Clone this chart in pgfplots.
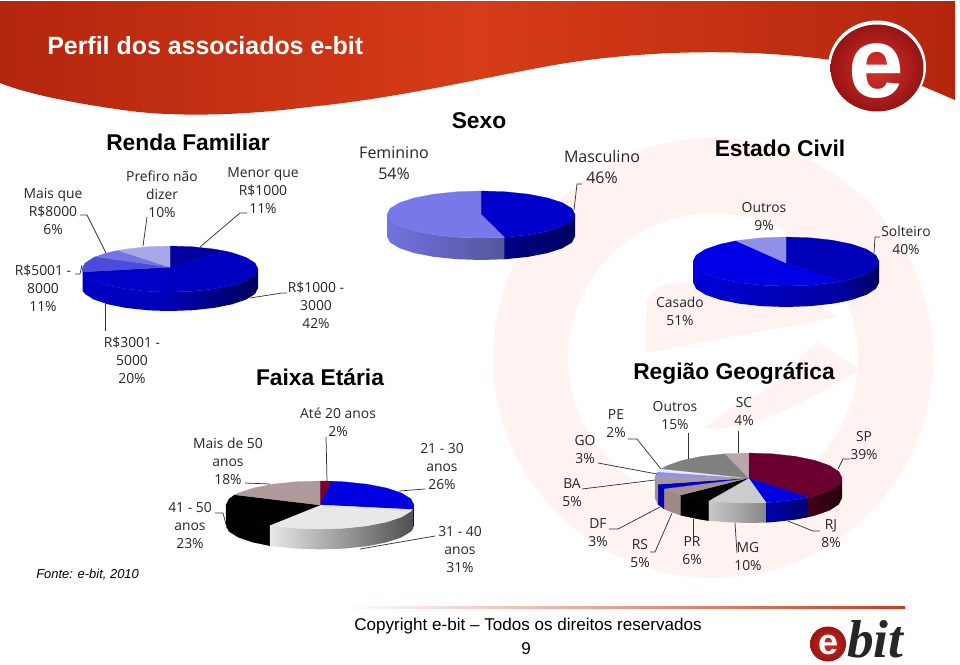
\documentclass[border=0pt]{standalone}
\usepackage{pgfplots}
\pgfplotsset{compat=1.18}
\usepackage{fontspec}
\setmainfont{Liberation Sans}
\newfontfamily\lab{Open Sans}
\newfontfamily\logoserif{Liberation Serif}
\definecolor{wm}{HTML}{FEF3F0}
\definecolor{labc}{HTML}{262626}
\newcommand\dc[1]{\definecolor{#1}{HTML}{#1}}
\dc{b3260e}\dc{d63c18}\dc{d8342c}\dc{961414}\dc{0000C0}\dc{00005C}\dc{0000C4}\dc{0000B8}\dc{00009E}\dc{0000C8}\dc{4C4CDC}\dc{7474E4}\dc{A8A8E8}\dc{000088}\dc{000060}\dc{7272E0}\dc{55559C}\dc{0000CC}\dc{7878E8}\dc{0000A0}\dc{0000D8}\dc{0000E4}\dc{9090E8}\dc{000090}\dc{E8E8E8}\dc{505050}\dc{7A0030}\dc{0000E0}\dc{AE9A9A}\dc{400018}\dc{280010}\dc{0000A8}\dc{000070}\dc{C8C8C8}\dc{888888}\dc{A08888}\dc{A09090}\dc{6A0030}\dc{CCCCCC}\dc{A89090}\dc{0000D0}\dc{A89A9A}\dc{E6ECF8}\dc{808080}\dc{B8A8A8}\dc{c83c20}\dc{d03028}\dc{981410}
\pgfplotsset{
  pie/.style={hide axis, scale only axis, clip=false, xmin=-1, xmax=1, ymin=-1, ymax=1, anchor=center, no markers},
  sl/.style={forget plot, fill=#1, draw=#1, line width=0.2pt},
  sd/.style n args={2}{forget plot, draw=none, left color=#1, right color=#2}
}
\newcommand\lbl[4][10.4]{\node[align=center,text=labc,inner sep=0pt,font=\lab\fontsize{#1}{13.5}\selectfont] at (#2,#3) {#4};}
\newcommand\lblb[3]{\node[align=center,text=labc,inner sep=0pt,font=\lab\fontsize{12}{15.75}\selectfont] at (#1,#2) {#3};}
\newcommand\ttl[3]{\node[inner sep=0pt,font=\bfseries\fontsize{17.1}{18}\selectfont] at (#1,#2) {#3};}
\begin{document}
\begin{tikzpicture}[x=0.75pt,y=-0.75pt]
\fill[white,use as bounding box] (0,0) rectangle (960,664);
% watermark
\fill[wm] (713,358) circle[radius=220];
\fill[white] (713,358) circle[radius=145];
\fill[wm] (645,353) -- (647,300) .. controls (655,285) and (670,283) .. (683,283) .. controls (750,280) and (810,295) .. (837,317) -- cycle;
\fill[wm] (860,370) -- (817,342) -- (790,367) .. controls (775,385) and (755,400) .. (733,407) -- (703,428) .. controls (750,432) and (790,410) .. cycle;
% header
\path[left color=b3260e, right color=b3260e, middle color=d63c18]
  (0,1) -- (955,1) -- (955,100) -- (880,68) -- (831,60)
  .. controls (760,50) and (660,48) .. (560,64)
  .. controls (480,78) and (400,98) .. (308,107)
  .. controls (240,116) and (170,117) .. (123,110)
  .. controls (80,104) and (30,95) .. (0,83) -- cycle;
\node[inner sep=0pt,text=white,font=\bfseries\fontsize{18.7}{20}\selectfont,anchor=west] at (47,46) {Perfil dos associados e-bit};
% big logo
\fill[white] (877,67) ellipse[x radius=49,y radius=46.5];
\shade[inner color=d8342c, outer color=961414] (877,68) ellipse[x radius=46.5,y radius=43.5];
\node[inner sep=0pt,text=white,font=\bfseries\fontsize{75}{75}\selectfont] at (876,71) {e};

% ---- Renda Familiar
\begin{axis}[pie, at={(170*0.75pt,-269*0.75pt)}, width=132pt, height=34.5pt]
\addplot[sd={0000C0}{00005C}] coordinates {(1,0)(.966,-.259)(.866,-.5)(.707,-.707)(.5,-.866)(.259,-.966)(0,-1)(-.187,-.982)(-.187,-1.808)(0,-1.826)(.259,-1.792)(.5,-1.692)(.707,-1.533)(.866,-1.326)(.966,-1.085)(1,-.826)} --cycle;
\addplot[sd={0000C4}{0000B8}] coordinates {(-.187,-.982)(-.259,-.966)(-.5,-.866)(-.707,-.707)(-.866,-.5)(-.966,-.259)(-.992,-.125)(-.992,-.951)(-.966,-1.085)(-.866,-1.326)(-.707,-1.533)(-.5,-1.692)(-.259,-1.792)(-.187,-1.808)} --cycle;
\addplot[sd={0000C4}{0000C4}] coordinates {(-.992,-.125)(-1,0)(-1,-.826)(-.992,-.951)} --cycle;
\addplot[sl=00009E] coordinates {(0,.08)(0,1)(.259,.966)(.5,.866)(.637,.770)} --cycle;
\addplot[sl=0000C0] coordinates {(0,.08)(.637,.770)(.707,.707)(.866,.5)(.966,.259)(1,0)(.966,-.259)(.866,-.5)(.707,-.707)(.5,-.866)(.259,-.966)(0,-1)(-.187,-.982)} --cycle;
\addplot[sl=0000C8] coordinates {(0,.08)(-.187,-.982)(-.259,-.966)(-.5,-.866)(-.707,-.707)(-.866,-.5)(-.966,-.259)(-.992,-.125)} --cycle;
\addplot[sl=4C4CDC] coordinates {(0,.08)(-.992,-.125)(-1,0)(-.966,.259)(-.866,.5)(-.844,.536)} --cycle;
\addplot[sl=7474E4] coordinates {(0,.08)(-.844,.536)(-.707,.707)(-.588,.809)} --cycle;
\addplot[sl=A8A8E8] coordinates {(0,.08)(-.588,.809)(-.5,.866)(-.259,.966)(0,1)} --cycle;
\end{axis}

% ---- Sexo
\begin{axis}[pie, at={(481*0.75pt,-214.5*0.75pt)}, width=141pt, height=35.25pt]
\addplot[sd={000088}{000060}] coordinates {(1,0)(.966,-.259)(.866,-.5)(.707,-.707)(.5,-.866)(.259,-.966)(.249,-.969)(.249,-1.905)(.259,-1.902)(.5,-1.802)(.707,-1.643)(.866,-1.436)(.966,-1.195)(1,-.936)} --cycle;
\addplot[sd={7272E0}{55559C}] coordinates {(.249,-.969)(0,-1)(-.259,-.966)(-.5,-.866)(-.707,-.707)(-.866,-.5)(-.966,-.259)(-1,0)(-1,-.936)(-.966,-1.195)(-.866,-1.436)(-.707,-1.643)(-.5,-1.802)(-.259,-1.902)(0,-1.936)(.249,-1.905)} --cycle;
\addplot[sl=0000CC] coordinates {(0,0)(0,1)(.259,.966)(.5,.866)(.707,.707)(.866,.5)(.966,.259)(1,0)(.966,-.259)(.866,-.5)(.707,-.707)(.5,-.866)(.259,-.966)(.249,-.969)} --cycle;
\addplot[sl=7878E8] coordinates {(0,0)(.249,-.969)(0,-1)(-.259,-.966)(-.5,-.866)(-.707,-.707)(-.866,-.5)(-.966,-.259)(-1,0)(-.966,.259)(-.866,.5)(-.707,.707)(-.5,.866)(-.259,.966)(0,1)} --cycle;
\end{axis}

% ---- Estado Civil
\begin{axis}[pie, at={(786*0.75pt,-261.5*0.75pt)}, width=139.5pt, height=36.75pt]
\addplot[sd={0000A0}{000060}] coordinates {(1,0)(.966,-.259)(.866,-.5)(.707,-.707)(.588,-.809)(.588,-1.666)(.707,-1.564)(.866,-1.357)(.966,-1.116)(1,-.857)} --cycle;
\addplot[sd={0000D8}{0000A0}] coordinates {(.588,-.809)(.5,-.866)(.259,-.966)(0,-1)(-.259,-.966)(-.5,-.866)(-.707,-.707)(-.866,-.5)(-.966,-.259)(-1,0)(-1,-.857)(-.966,-1.116)(-.866,-1.357)(-.707,-1.564)(-.5,-1.723)(-.259,-1.823)(0,-1.857)(.259,-1.823)(.5,-1.723)(.588,-1.666)} --cycle;
\addplot[sl=0000B8] coordinates {(0,-.06)(0,1)(.259,.966)(.5,.866)(.707,.707)(.866,.5)(.966,.259)(1,0)(.966,-.259)(.866,-.5)(.707,-.707)(.588,-.809)} --cycle;
\addplot[sl=0000E4] coordinates {(0,-.06)(.588,-.809)(.5,-.866)(.259,-.966)(0,-1)(-.259,-.966)(-.5,-.866)(-.707,-.707)(-.866,-.5)(-.966,-.259)(-1,0)(-.966,.259)(-.866,.5)(-.707,.707)(-.536,.844)} --cycle;
\addplot[sl=9090E8] coordinates {(0,-.06)(-.536,.844)(-.5,.866)(-.259,.966)(0,1)} --cycle;
\end{axis}

% ---- Faixa Etaria
\begin{axis}[pie, at={(320*0.75pt,-505*0.75pt)}, width=141pt, height=36pt]
\addplot[sd={000090}{0000C0}] coordinates {(1,0)(.982,-.187)(.982,-1.037)(1,-.85)} --cycle;
\addplot[sd={E8E8E8}{505050}] coordinates {(.982,-.187)(.966,-.259)(.866,-.5)(.707,-.707)(.5,-.866)(.259,-.966)(0,-1)(-.259,-.966)(-.5,-.866)(-.536,-.844)(-.536,-1.694)(-.5,-1.716)(-.259,-1.816)(0,-1.85)(.259,-1.816)(.5,-1.716)(.707,-1.557)(.866,-1.35)(.966,-1.109)(.982,-1.037)} --cycle;
\addplot[sl=black] coordinates {(-.536,-.844)(-.707,-.707)(-.866,-.5)(-.966,-.259)(-1,0)(-1,-.85)(-.966,-1.109)(-.866,-1.35)(-.707,-1.557)(-.536,-1.694)} --cycle;
\addplot[sl=7A0030] coordinates {(0,0)(0,1)(.125,.992)} --cycle;
\addplot[sl=0000E0] coordinates {(0,0)(.125,.992)(.259,.966)(.5,.866)(.707,.707)(.866,.5)(.966,.259)(1,0)(.982,-.187)} --cycle;
\addplot[sl=E8E8E8] coordinates {(0,0)(.982,-.187)(.966,-.259)(.866,-.5)(.707,-.707)(.5,-.866)(.259,-.966)(0,-1)(-.259,-.966)(-.5,-.866)(-.536,-.844)} --cycle;
\addplot[sl=black] coordinates {(0,0)(-.536,-.844)(-.707,-.707)(-.866,-.5)(-.966,-.259)(-1,0)(-.966,.259)(-.905,.426)} --cycle;
\addplot[sl=AE9A9A] coordinates {(0,0)(-.905,.426)(-.866,.5)(-.707,.707)(-.5,.866)(-.259,.966)(0,1)} --cycle;
\end{axis}

% ---- Regiao Geografica
\begin{axis}[pie, at={(748.5*0.75pt,-478*0.75pt)}, width=140.25pt, height=37.5pt]
\addplot[sd={400018}{280010}] coordinates {(1,0)(.966,-.259)(.866,-.5)(.707,-.707)(.637,-.770)(.637,-1.57)(.707,-1.507)(.866,-1.3)(.966,-1.059)(1,-.8)} --cycle;
\addplot[sd={0000A8}{000070}] coordinates {(.637,-.770)(.5,-.866)(.259,-.966)(.187,-.982)(.187,-1.782)(.259,-1.766)(.5,-1.666)(.637,-1.57)} --cycle;
\addplot[sd={C8C8C8}{888888}] coordinates {(.187,-.982)(0,-1)(-.259,-.966)(-.426,-.905)(-.426,-1.705)(-.259,-1.766)(0,-1.8)(.187,-1.782)} --cycle;
\addplot[sl=black] coordinates {(-.426,-.905)(-.5,-.866)(-.707,-.707)(-.729,-.685)(-.729,-1.485)(-.707,-1.507)(-.5,-1.666)(-.426,-1.705)} --cycle;
\addplot[sl=A08888] coordinates {(-.729,-.685)(-.866,-.5)(-.905,-.426)(-.905,-1.226)(-.866,-1.3)(-.729,-1.485)} --cycle;
\addplot[sl=0000A8] coordinates {(-.905,-.426)(-.966,-.259)(-.969,-.249)(-.969,-1.049)(-.966,-1.059)(-.905,-1.226)} --cycle;
\addplot[sl=A09090] coordinates {(-.969,-.249)(-1,0)(-1,-.8)(-.969,-1.049)} --cycle;
\addplot[sl=6A0030] coordinates {(0,0)(0,1)(.259,.966)(.5,.866)(.707,.707)(.866,.5)(.966,.259)(1,0)(.966,-.259)(.866,-.5)(.707,-.707)(.637,-.770)} --cycle;
\addplot[sl=0000E0] coordinates {(0,0)(.637,-.770)(.5,-.866)(.259,-.966)(.187,-.982)} --cycle;
\addplot[sl=CCCCCC] coordinates {(0,0)(.187,-.982)(0,-1)(-.259,-.966)(-.426,-.905)} --cycle;
\addplot[sl=black] coordinates {(0,0)(-.426,-.905)(-.5,-.866)(-.707,-.707)(-.729,-.685)} --cycle;
\addplot[sl=A89090] coordinates {(0,0)(-.729,-.685)(-.866,-.5)(-.905,-.426)} --cycle;
\addplot[sl=0000D0] coordinates {(0,0)(-.905,-.426)(-.966,-.259)(-.969,-.249)} --cycle;
\addplot[sl=A89A9A] coordinates {(0,0)(-.969,-.249)(-1,0)(-.998,.063)} --cycle;
\addplot[sl=9090E8] coordinates {(0,0)(-.998,.063)(-.969,.249)} --cycle;
\addplot[sl=E6ECF8] coordinates {(0,0)(-.969,.249)(-.930,.368)} --cycle;
\addplot[sl=808080] coordinates {(0,0)(-.930,.368)(-.866,.5)(-.707,.707)(-.5,.866)(-.259,.966)(-.249,.969)} --cycle;
\addplot[sl=B8A8A8] coordinates {(0,0)(-.249,.969)(0,1)} --cycle;
\end{axis}

% leaders
\begin{scope}[draw=black!80,line width=0.55pt]
\draw (80,215)--(87,215)--(106,253);
\draw (147,217)--(143,246);
\draw (247,213)--(240,213)--(200,247);
\draw (75,274)--(80,274)--(82,265);
\draw (287,293)--(282,293)--(250,298);
\draw (105,331)--(105,303);
\draw (582,184)--(577,184)--(574,210);
\draw (880,237)--(875,237)--(874,253);
\draw (326,437)--(327,481);
\draw (425,489)--(399,491);
\draw (245,483)--(270,484);
\draw (215,513)--(223,513)--(227,528);
\draw (435,536)--(360,549);
\draw (738,431)--(738,453);
\draw (688,433)--(688,459);
\draw (628,439)--(637,439)--(661,469);
\draw (598,463)--(657,474);
\draw (582,489)--(655,480);
\draw (609,529)--(618,529)--(660,507);
\draw (650,552)--(655,552)--(672,513);
\draw (693,537)--(693,519);
\draw (737,553)--(735,523);
\draw (820,531)--(813,531)--(788,521);
\draw (850,459)--(843,459)--(838,469);
\end{scope}

% titles
\ttl{188}{142}{Renda Familiar}
\ttl{479}{121}{Sexo}
\ttl{780}{148}{Estado Civil}
\ttl{320}{377}{Faixa Etária}
\ttl{734}{374}{Região Geográfica}

% labels
\lbl{53}{211}{Mais que\\R\$8000\\6\%}
\lbl{162}{194}{Prefiro não\\dizer\\10\%}
\lbl{263}{191}{Menor que\\R\$1000\\11\%}
\lbl{43}{288}{R\$5001 -\\8000\\11\%}
\lbl{316}{305}{R\$1000 -\\3000\\42\%}
\lbl{132}{360}{R\$3001 -\\5000\\20\%}
\lblb{394}{163}{Feminino\\54\%}
\lblb{602}{167}{Masculino\\46\%}
\lbl{764}{217}{Outros\\9\%}
\lbl{906}{240}{Solteiro\\40\%}
\lbl{680}{311}{Casado\\51\%}
\lbl{338}{422}{Até 20 anos\\2\%}
\lbl{228}{461}{Mais de 50\\anos\\18\%}
\lbl{442}{467}{21 - 30\\anos\\26\%}
\lbl{190}{526}{41 - 50\\anos\\23\%}
\lbl{460}{550}{31 - 40\\anos\\31\%}
\lbl{616}{424}{PE\\2\%}
\lbl{675}{416}{Outros\\15\%}
\lbl{744}{412}{SC\\4\%}
\lbl{864}{446}{SP\\39\%}
\lbl{585}{450}{GO\\3\%}
\lbl{572}{493}{BA\\5\%}
\lbl{598}{533}{DF\\3\%}
\lbl{640}{554}{RS\\5\%}
\lbl{692}{551}{PR\\6\%}
\lbl{748}{557}{MG\\10\%}
\lbl{831}{534}{RJ\\8\%}

% footer
\node[inner sep=0pt,anchor=west,font=\itshape\fontsize{9.7}{12}\selectfont] at (36,575) {Fonte: e-bit, 2010};
\path[left color=white, right color=c83c20] (340,606) rectangle (905,608.5);
\node[inner sep=0pt,font=\fontsize{12.8}{14}\selectfont] at (528,626) {Copyright e-bit – Todos os direitos reservados};
\node[inner sep=0pt,font=\fontsize{12.8}{14}\selectfont] at (526,649) {9};
% small logo
\shade[inner color=d03028, outer color=981410] (828,644) ellipse[x radius=18,y radius=17.5];
\node[inner sep=0pt,text=white,font=\bfseries\fontsize{27}{27}\selectfont] at (828,645) {e};
\node[inner sep=0pt,anchor=base west,text=black!85,font=\logoserif\bfseries\itshape\fontsize{40}{40}\selectfont] at (847,657) {bit};
\end{tikzpicture}
\end{document}
